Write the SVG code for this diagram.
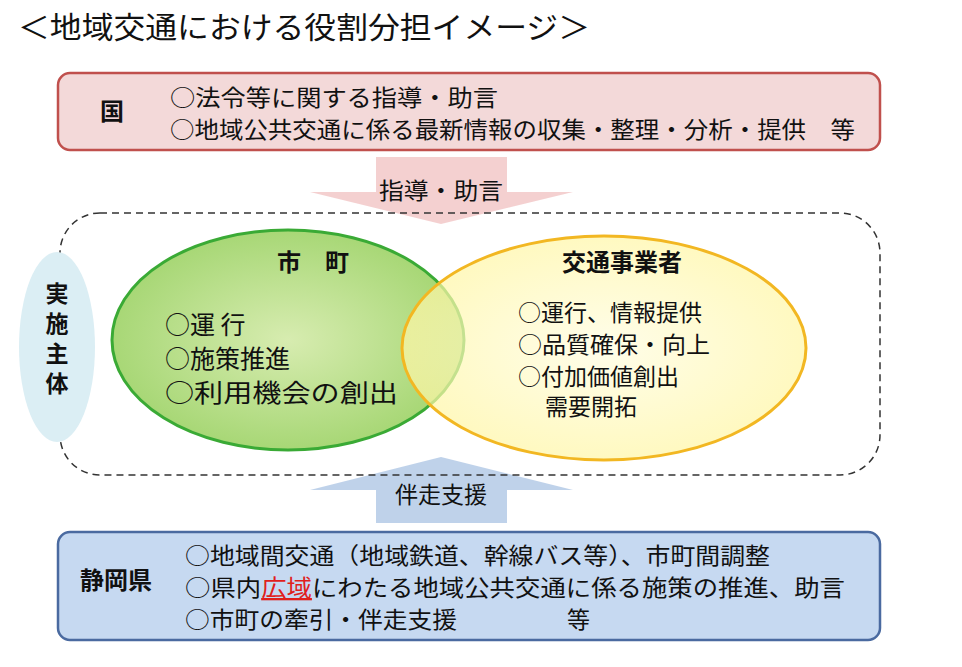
<svg xmlns="http://www.w3.org/2000/svg" width="962" height="667" viewBox="0 0 962 667">
<style>
text{font-family:"Noto Sans CJK JP","Liberation Sans",sans-serif;fill:#111}
.t{font-size:23px}
.g{font-size:25px}
.b{font-size:24px;font-weight:bold}
.v{font-size:23px;font-weight:bold}
</style>
<defs>
<radialGradient id="gg" cx="0.5" cy="0.5" r="0.6"><stop offset="0" stop-color="#d7ecb0"/><stop offset="1" stop-color="#9ed36a"/></radialGradient>
<radialGradient id="yg" cx="0.5" cy="0.5" r="0.6"><stop offset="0" stop-color="#fffde0"/><stop offset="1" stop-color="#fff59a"/></radialGradient>
</defs>
<rect width="962" height="667" fill="#fff"/>
<text x="18" y="38" font-size="30" textLength="572" lengthAdjust="spacingAndGlyphs">＜地域交通における役割分担イメージ＞</text>
<g id="kuni">
<rect x="58" y="73" width="822" height="77" rx="12" fill="#f3d9d9" stroke="#c0504d" stroke-width="2.5"/>
<text x="100" y="120" class="b">国</text>
<text x="170" y="106" class="t" textLength="328" lengthAdjust="spacingAndGlyphs">○法令等に関する指導・助言</text>
<text x="170" y="138" class="t" textLength="685" lengthAdjust="spacingAndGlyphs">○地域公共交通に係る最新情報の収集・整理・分析・提供　等</text>
</g>
<g id="connectors">
<polygon points="376,157 507,157 507,192 573,192 441,224 310,192 376,192" fill="#f2c8c8" opacity="0.85"/>
<text x="441" y="199" class="t" text-anchor="middle" textLength="124" lengthAdjust="spacingAndGlyphs">指導・助言</text>
<polygon points="441,457 573,490 507,490 507,523 376,523 376,490 310,490" fill="#b8cde8" opacity="0.9"/>
<text x="441" y="503" class="t" text-anchor="middle">伴走支援</text>
</g>
<g id="area">
<rect x="60" y="213" width="820" height="262" rx="40" fill="none" stroke="#333" stroke-width="1.5" stroke-dasharray="7,5"/>
</g>
<g id="jisshi">
<ellipse cx="57" cy="347" rx="38" ry="95" fill="#dbeef4"/>
<text x="57" y="302" class="v" text-anchor="middle">実</text>
<text x="57" y="332" class="v" text-anchor="middle">施</text>
<text x="57" y="362" class="v" text-anchor="middle">主</text>
<text x="57" y="392" class="v" text-anchor="middle">体</text>
</g>
<g id="shicho">
<ellipse cx="288" cy="340" rx="176" ry="110" fill="url(#gg)" stroke="#3aaa35" stroke-width="3"/>
<text x="313" y="271" class="b" text-anchor="middle">市　町</text>
<text x="165" y="334" class="g">○運 行</text>
<text x="165" y="368" class="g">○施策推進</text>
<text x="165" y="402" class="g" textLength="233" lengthAdjust="spacingAndGlyphs">○利用機会の創出</text>
</g>
<g id="jigyosha">
<ellipse cx="604" cy="348" rx="202" ry="112" fill="url(#yg)" fill-opacity="0.7" stroke="#f2b722" stroke-width="3"/>
<text x="622" y="271" class="b" text-anchor="middle">交通事業者</text>
<text x="518" y="321" class="t">○運行、情報提供</text>
<text x="518" y="353" class="t" textLength="192" lengthAdjust="spacingAndGlyphs">○品質確保・向上</text>
<text x="518" y="385" class="t">○付加価値創出</text>
<text x="545" y="415" class="t">需要開拓</text>
</g>
<g id="shizuoka">
<rect x="58" y="532" width="822" height="108" rx="12" fill="#c6d9f1" stroke="#4a6aa0" stroke-width="2.5"/>
<text x="80" y="589" class="b">静岡県</text>
<text x="185" y="564" class="t" textLength="585" lengthAdjust="spacingAndGlyphs">○地域間交通（地域鉄道、幹線バス等）、市町間調整</text>
<text x="185" y="596" class="t" textLength="660" lengthAdjust="spacingAndGlyphs">○県内<tspan fill="#e0201c" text-decoration="underline">広域</tspan>にわたる地域公共交通に係る施策の推進、助言</text>
<text x="185" y="628" class="t" textLength="272" lengthAdjust="spacingAndGlyphs">○市町の牽引・伴走支援</text>
<text x="567" y="628" class="t">等</text>
</g>
</svg>
